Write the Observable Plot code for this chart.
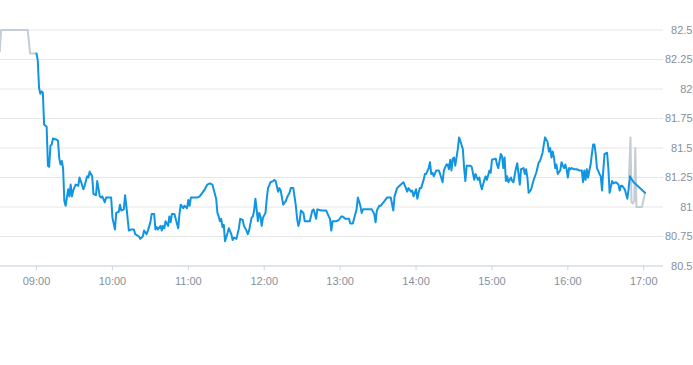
<!DOCTYPE html>
<html><head><meta charset="utf-8">
<script src="https://cdn.jsdelivr.net/npm/d3@7"></script>
<script src="https://cdn.jsdelivr.net/npm/@observablehq/plot@0.6"></script>
<style>html,body{margin:0;padding:0;background:#fff}svg{display:block}</style>
</head><body><div id="chart"></div>
<script>
const sessionTimes = ["09:00","09:01","09:02","09:03","09:04","09:05","09:06","09:08","09:09","09:10","09:11","09:12","09:13","09:16","09:17","09:18","09:19","09:20","09:21","09:22","09:23","09:25","09:26","09:27","09:28","09:29","09:31","09:33","09:34","09:35","09:37","09:38","09:40","09:41","09:42","09:44","09:45","09:47","09:48","09:50","09:51","09:52","09:54","09:55","09:58","09:59",
"10:00","10:02","10:03","10:05","10:06","10:07","10:09","10:10","10:11","10:13","10:15","10:17","10:18","10:21","10:22","10:24","10:25","10:27","10:28","10:30","10:31","10:33","10:34","10:35","10:36","10:38","10:39","10:40","10:41","10:42","10:44","10:45","10:46","10:47","10:49","10:50","10:52","10:53","10:54","10:56","10:57","10:59",
"11:00","11:01","11:02","11:04","11:07","11:09","11:11","11:13","11:15","11:17","11:19","11:20","11:22","11:23","11:24","11:25","11:26","11:27","11:28","11:29","11:31","11:32","11:34","11:35","11:36","11:38","11:40","11:41","11:43","11:44","11:46","11:47","11:48","11:50","11:51","11:52","11:53","11:54","11:55","11:56","11:57","11:58","11:59",
"12:01","12:02","12:03","12:05","12:07","12:08","12:09","12:11","12:12","12:13","12:15","12:17","12:18","12:20","12:21","12:23","12:25","12:26","12:27","12:28","12:29","12:31","12:32","12:34","12:36","12:38","12:39","12:41","12:42","12:45","12:49","12:51","12:52","12:53","12:54","12:57","12:59",
"13:01","13:02","13:04","13:07","13:08","13:10","13:11","13:13","13:14","13:16","13:17","13:18","13:20","13:23","13:25","13:27","13:28","13:29","13:31","13:32","13:35","13:37","13:40","13:42","13:43","13:45","13:47","13:48","13:50","13:52","13:53","13:54","13:56","13:57","13:58",
"14:00","14:01","14:02","14:03","14:04","14:06","14:07","14:08","14:10","14:11","14:12","14:13","14:14","14:16","14:18","14:19","14:21","14:22","14:24","14:25","14:26","14:27","14:28","14:29","14:30","14:31","14:33","14:34","14:35","14:37","14:38","14:39","14:40","14:43","14:44","14:46","14:47","14:48","14:49","14:50","14:51","14:52","14:54","14:55","14:56","14:58","14:59",
"15:00","15:03","15:04","15:05","15:07","15:08","15:09","15:10","15:11","15:12","15:13","15:15","15:16","15:17","15:19","15:20","15:21","15:22","15:23","15:25","15:26","15:27","15:28","15:29","15:31","15:32","15:33","15:35","15:37","15:38","15:40","15:41","15:42","15:44","15:45","15:46","15:47","15:48","15:49","15:50","15:51","15:52","15:54","15:55","15:56","15:57","15:58","15:59",
"16:00","16:01","16:02","16:03","16:05","16:07","16:09","16:11","16:12","16:13","16:14","16:15","16:16","16:17","16:18","16:19","16:20","16:21","16:22","16:23","16:25","16:26","16:27","16:28","16:29","16:31","16:32","16:33","16:35","16:36","16:38","16:40","16:41","16:42","16:43","16:45","16:47","16:48","16:49","16:52","17:01"];
const sessionPrices = [82.30,82.24,82.01,81.96,81.98,81.97,81.70,81.68,81.35,81.34,81.52,81.53,81.58,81.57,81.56,81.41,81.36,81.39,81.33,81.05,81.01,81.15,81.09,81.19,81.09,81.14,81.19,81.18,81.25,81.22,81.15,81.18,81.26,81.25,81.30,81.26,81.11,81.10,81.22,81.09,81.08,81.09,81.04,81.08,81.08,81.08,
80.91,80.81,80.95,80.96,81.02,80.97,80.98,81.10,81.01,80.80,80.81,80.81,80.77,80.75,80.73,80.75,80.80,80.77,80.80,80.87,80.94,80.94,80.81,80.83,80.81,80.84,80.80,80.84,80.82,80.88,80.84,80.92,80.87,80.94,80.94,80.90,80.82,80.94,81.02,80.99,81.01,80.99,
81.06,81.01,81.08,81.08,81.08,81.09,81.12,81.15,81.19,81.20,81.19,81.15,81.07,80.95,80.92,80.88,80.90,80.83,80.85,80.71,80.78,80.82,80.77,80.72,80.74,80.73,80.82,80.90,80.89,80.84,80.80,80.77,80.80,80.91,80.92,80.97,81.07,80.98,80.88,80.95,80.92,80.84,80.91,
80.95,81.07,81.16,81.21,81.22,81.23,81.22,81.13,81.16,81.14,81.02,81.05,81.08,81.12,81.16,81.16,81.01,80.90,80.84,80.88,80.97,80.95,80.88,80.88,80.88,80.97,80.98,80.90,80.98,80.97,80.97,80.92,80.90,80.80,80.88,80.88,80.89,
80.92,80.92,80.90,80.90,80.86,80.86,80.90,80.98,81.08,81.01,80.95,80.98,80.98,80.98,80.98,80.94,80.87,80.97,81.01,81.01,81.05,81.08,81.08,80.97,81.09,81.16,81.18,81.19,81.21,81.16,81.13,81.16,81.13,81.14,81.09,
81.15,81.07,81.12,81.16,81.16,81.23,81.28,81.28,81.33,81.38,81.28,81.29,81.26,81.31,81.31,81.28,81.21,81.31,81.36,81.36,81.32,81.40,81.31,81.41,81.42,81.35,81.49,81.59,81.56,81.49,81.33,81.22,81.35,81.35,81.34,81.23,81.28,81.25,81.23,81.25,81.19,81.15,81.23,81.26,81.23,81.31,81.29,
81.40,81.41,81.36,81.33,81.45,81.43,81.33,81.42,81.22,81.26,81.21,81.25,81.22,81.21,81.33,81.37,81.28,81.19,81.32,81.33,81.28,81.32,81.25,81.12,81.15,81.19,81.23,81.29,81.38,81.39,81.46,81.53,81.59,81.55,81.47,81.50,81.42,81.47,81.42,81.33,81.36,81.28,81.31,81.38,81.35,81.33,81.36,81.32,
81.25,81.33,81.32,81.33,81.32,81.32,81.31,81.31,81.21,81.31,81.23,81.32,81.25,81.31,81.36,81.45,81.53,81.53,81.45,81.33,81.28,81.26,81.14,81.31,81.45,81.46,81.33,81.12,81.22,81.20,81.21,81.19,81.14,81.18,81.18,81.15,81.07,81.15,81.26,81.21,81.12];

const preTimes = ["08:31","08:32","08:53","08:55","09:00"];
const prePrices = [82.32,82.50,82.50,82.30,82.30];

const postTimes = ["16:48:24","16:49:30","16:50:18","16:51:18","16:52:30","16:53:18","16:54:12","16:58:36","17:01"];
const postPrices = [81.26,81.59,81.04,81.03,81.05,81.50,81.00,81.00,81.12];

const yTicks = [80.5,80.75,81,81.25,81.5,81.75,82,82.25,82.5];
const xTicks = ["09:00","10:00","11:00","12:00","13:00","14:00","15:00","16:00","17:00"];
const xDomain = ["08:31:32","17:15:36"];
const yDomain = [80.5,82.5];

const parseT = s => { const [h,m,sec=0] = s.split(":").map(Number); return new Date(Date.UTC(2024,0,15,h,m,sec)); };
const toRows = (ts, ps) => ts.map((t,i) => ({t: parseT(t), v: ps[i]}));
const session = toRows(sessionTimes, sessionPrices);
const pre = toRows(preTimes, prePrices);
const post = toRows(postTimes, postPrices);

const labelColor = "#86909c";
const chart = Plot.plot({
  width: 693,
  height: 365,
  marginLeft: 0,
  marginRight: 30,
  marginTop: 29.5,
  marginBottom: 99.5,
  style: {fontFamily: "'Liberation Sans', Arial, sans-serif", fontSize: "11px", background: "#fff"},
  x: {type: "utc", domain: xDomain.map(parseT), label: null},
  y: {domain: yDomain, label: null},
  marks: [
    Plot.gridY(yTicks, {stroke: "#e6e6e6", strokeOpacity: 1}),
    Plot.ruleY([yDomain[0]], {stroke: "#ccd6eb"}),
    Plot.axisY(yTicks, {anchor: "right", label: null, tickSize: 0, tickPadding: 29, textAnchor: "end", fill: labelColor, tickFormat: d => String(d), fontSize: 11}),
    Plot.axisX(xTicks.map(parseT), {anchor: "bottom", label: null, tickSize: 5, stroke: "#ccd6eb", fill: labelColor, tickPadding: 6, tickFormat: d3.utcFormat("%H:%M"), fontSize: 11}),
    Plot.line(pre, {x: "t", y: "v", stroke: "#c4ccd4", strokeWidth: 2}),
    Plot.line(post, {x: "t", y: "v", stroke: "#c4ccd4", strokeWidth: 2}),
    Plot.line(session, {x: "t", y: "v", stroke: "#1195e2", strokeWidth: 2})
  ]
});
document.getElementById("chart").appendChild(chart);
</script>
</body></html>
